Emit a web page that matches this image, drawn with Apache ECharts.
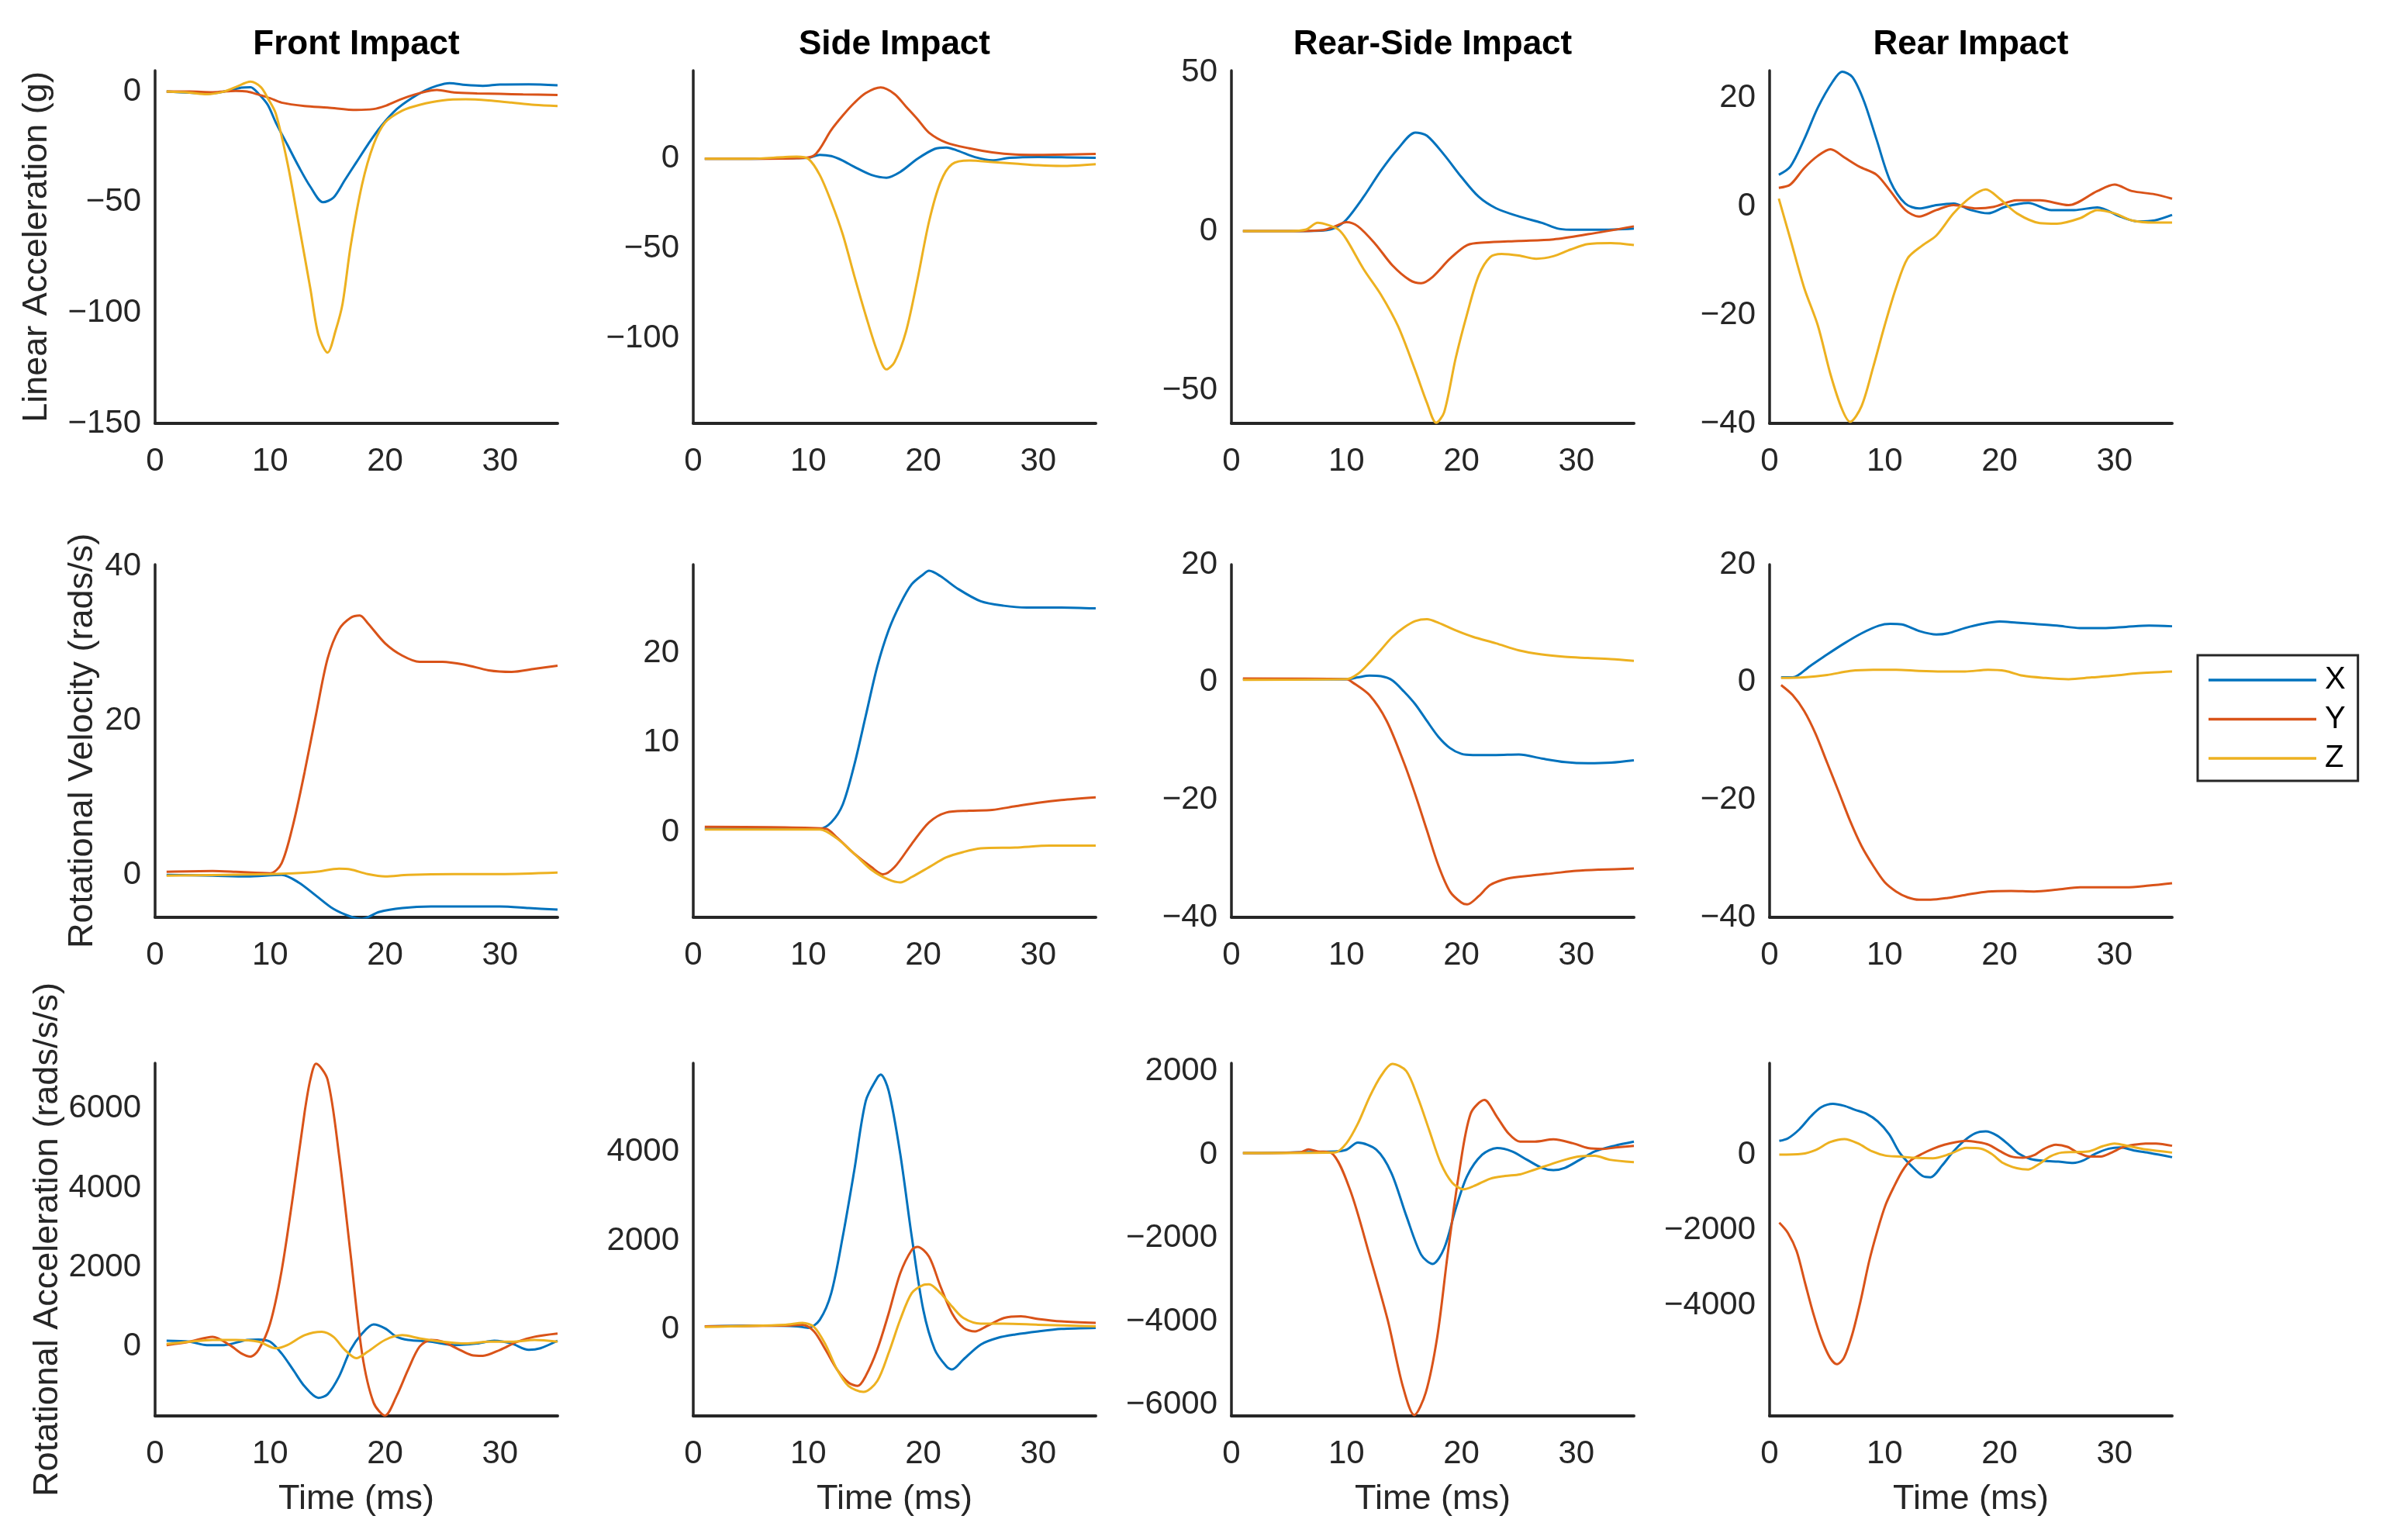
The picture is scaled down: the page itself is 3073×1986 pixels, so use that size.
<!DOCTYPE html>
<html>
<head>
<meta charset="utf-8">
<script src="https://cdn.jsdelivr.net/npm/echarts@6/dist/echarts.min.js"></script>
<style>
html,body{margin:0;padding:0;background:#fff;}
#chart{width:3073px;height:1986px;}
</style>
</head>
<body>
<div id="chart"></div>
<script>
// ---------- DATA ([time ms, value]) ----------
const columnTitles = ['Front Impact', 'Side Impact', 'Rear-Side Impact', 'Rear Impact'];
const rowNames = ['Linear Acceleration (g)', 'Rotational Velocity (rads/s)', 'Rotational Acceleration (rads/s/s)'];
const seriesNames = ['X', 'Y', 'Z'];
const xTicks = [0, 10, 20, 30];

// Row 1: linear acceleration
const frontLinX = [[1,0],[3,-0.5],[4.5,-1],[6,0],[7.5,1.8],[8.3,2],[9,-1],[9.8,-6],[10.5,-14],[11.5,-24],[12.5,-34],[13.5,-43],[14.6,-50],[15.5,-48],[16.5,-40],[17.5,-32],[18.5,-24],[19.6,-16],[21,-8],[22.3,-3],[23.5,0.5],[24.5,2.6],[25.6,3.8],[27,3],[28.5,2.6],[30,3.2],[32.5,3.3],[35,2.8]];
const frontLinY = [[1,0],[3,0],[5,-0.3],[7,0.3],[8,0],[9,-1.4],[10,-3],[11,-5],[13,-6.5],[15,-7.2],[17.5,-8.3],[19,-7.9],[20,-6.5],[21,-4.3],[22,-2.3],[23,-0.7],[24.5,0.7],[26,-0.4],[28,-0.8],[30,-1],[32,-1.3],[35,-1.5]];
const frontLinZ = [[1,0],[3,-0.5],[4.5,-1.2],[6,0],[7,2],[8.3,4.5],[9.2,2],[9.8,-3],[10.5,-10],[11.5,-32],[12.5,-60],[13.5,-89],[14.2,-110],[15,-118],[15.7,-108],[16.3,-96],[17,-70],[18,-42],[19,-24],[20,-14],[21.5,-8.6],[23,-6],[25,-4],[27,-3.5],[29,-4],[31,-5],[33,-6],[35,-6.5]];

const sideLinX = [[1,0],[5,0],[8,0.3],[10,0.5],[11,2.2],[12,1.5],[13,-1],[14,-4.5],[15.5,-9],[16.8,-10.5],[18,-7.3],[19.5,0],[21,5.5],[22,6.3],[23,4.5],[24.5,0.9],[26,-0.9],[27.5,0.5],[30,1],[32.5,0.8],[35,0.5]];
const sideLinY = [[1,0],[5,0],[9,0.3],[10.5,1.8],[12,16],[13,24],[14,31],[15,36.5],[16.3,39.6],[17.5,36],[18.5,29],[19.5,22],[20.5,14.5],[22,9],[24,5.8],[26,3.6],[28,2.4],[30,2.2],[35,2.7]];
const sideLinZ = [[1,0],[5,0],[8,1],[9,1.2],[10,0],[11,-9],[12,-24],[13,-42],[14,-65],[15,-87],[16,-107],[16.8,-117],[17.5,-113],[18.5,-96],[19.5,-67],[20.5,-35],[21.5,-13],[22.5,-3],[24,-1],[26,-1.8],[28,-2.7],[30,-3.6],[32,-4],[35,-3]];

const rearSideLinX = [[1,0],[5,0],[8,0.2],[9,1],[10,3.6],[11.5,10.8],[13,19],[14.5,26],[16,31],[17,30],[18.5,24],[20,17],[21.5,10.8],[23,7.2],[25,4.6],[27,2.6],[28.5,0.7],[30,0.4],[32,0.4],[35,0.8]];
const rearSideLinY = [[1,0],[5,0],[8,0.3],[9,1.5],[10,2.8],[11,1.5],[12.5,-4],[14,-10.8],[15.5,-15.4],[16.5,-16.4],[17.5,-14.4],[19,-8.7],[20.5,-4.4],[22,-3.6],[25,-3.1],[28,-2.6],[31,-1],[35,1.5]];
const rearSideLinZ = [[1,0],[5,0],[6.5,0.5],[7.5,2.6],[8.5,1.8],[9.3,0.5],[10,-2.6],[11.5,-12],[13,-20],[14.5,-30],[16,-44],[17,-54],[17.8,-60.3],[18.5,-57],[19.5,-40],[20.5,-26],[21.5,-14],[22.5,-8.2],[23.5,-7.2],[25,-7.7],[26.5,-8.7],[28,-7.9],[29.5,-5.8],[31,-4.1],[33,-3.8],[35,-4.4]];

const rearLinX = [[0.8,5.8],[1.8,7.3],[3,12.3],[4.2,18.2],[5.5,23],[6.3,24.8],[7.2,23.8],[8.2,19.4],[9.3,12.3],[10.5,4.6],[11.8,0.5],[13,-0.4],[14.5,0.2],[16,0.5],[17.5,-0.7],[19,-1.3],[20.5,-0.1],[22.5,0.6],[24.5,-0.7],[26.5,-0.7],[28.5,-0.2],[30.5,-1.9],[32,-2.8],[33.5,-2.6],[35,-1.6]];
const rearLinY = [[0.8,3.4],[1.8,4],[3,7],[4.2,9.3],[5.3,10.5],[6.5,9],[7.8,7.3],[9.3,5.8],[10.5,2.8],[11.8,-0.7],[13,-1.9],[14.5,-0.7],[16,0.2],[18,-0.4],[19.5,-0.1],[21.5,1.1],[23.5,1.1],[26,0.2],[28.5,2.8],[30,4],[31.5,2.8],[33.5,2.2],[35,1.4]];
const rearLinZ = [[0.8,1.4],[1.8,-6],[3,-15],[4.2,-22],[5.3,-31],[6.3,-37.4],[7,-39.7],[8,-36.8],[9,-29.7],[10,-22],[11,-15],[12,-9.6],[13.3,-7.2],[14.5,-5.4],[16,-1.3],[17.5,1.7],[18.8,3.1],[20,1.4],[21.5,-1.3],[23.5,-3.1],[25,-3.2],[27,-2.2],[28.5,-0.7],[30,-1.3],[31.5,-2.6],[33.5,-3],[35,-3]];

// Row 2: rotational velocity
const frontVelX = [[1,0],[5,-0.1],[8,-0.2],[11,0],[12.5,-1],[14,-2.7],[15.5,-4.4],[17,-5.4],[18,-5.7],[19.5,-4.8],[21.5,-4.3],[24,-4.1],[27,-4.1],[30,-4.1],[32.5,-4.3],[35,-4.5]];
const frontVelY = [[1,0.4],[5,0.5],[7,0.4],[10,0.2],[11,1.5],[12,6.5],[13,13.3],[14,20.8],[15,28],[16,31.8],[17,33.3],[17.8,33.6],[18.5,32.6],[20,30],[21.5,28.4],[23,27.6],[25,27.6],[27,27.2],[29,26.5],[31,26.3],[33,26.7],[35,27.1]];
const frontVelZ = [[1,-0.1],[10,0.1],[12,0.2],[14,0.4],[16,0.8],[17,0.7],[18.5,0.1],[20,-0.2],[22,0],[26,0.1],[30,0.1],[35,0.3]];

const sideVelX = [[1,0.4],[11,0.4],[12,1.1],[13,3.1],[14,7.5],[15,13],[16,18.5],[17,22.6],[18,25.5],[19,27.7],[20,28.8],[20.5,29.2],[21.5,28.6],[23,27.2],[25,25.8],[27,25.3],[29,25.1],[32,25.1],[35,25]];
const sideVelY = [[1,0.6],[11.5,0.4],[12.5,-0.6],[14,-2.4],[15.5,-3.9],[16.5,-4.7],[17.5,-3.9],[19,-1.3],[20.5,1.1],[22,2.2],[24,2.4],[26,2.5],[28,2.9],[30,3.3],[32,3.6],[35,3.9]];
const sideVelZ = [[1,0.3],[11,0.3],[12.5,-0.7],[14,-2.4],[15.5,-4.2],[17,-5.3],[18,-5.6],[19,-5],[20.5,-3.9],[22,-2.8],[23.5,-2.2],[25,-1.8],[28,-1.7],[31,-1.5],[35,-1.5]];

const rearSideVelX = [[1,0.5],[10,0.5],[11,0.8],[12,1.1],[13,1],[14,0.3],[15,-1.6],[16,-3.8],[17,-6.6],[18,-9.3],[19,-11.2],[20,-12.2],[21,-12.4],[23,-12.4],[25,-12.3],[27,-13],[29,-13.6],[31,-13.8],[33,-13.7],[35,-13.3]];
const rearSideVelY = [[1,0.6],[10,0.5],[10.5,0],[12,-2.2],[13.5,-6.6],[15,-13.7],[16,-19.2],[17,-25.2],[18,-31.2],[19,-35.6],[20,-37.5],[20.5,-37.8],[21.5,-36.4],[22.5,-34.5],[24,-33.4],[26,-32.9],[28,-32.5],[30,-32.1],[32,-31.9],[35,-31.7]];
const rearSideVelZ = [[1,0.4],[10,0.5],[11,1.4],[12,3.3],[13,5.5],[14,7.7],[15,9.3],[16,10.4],[17,10.7],[18,10.1],[19.5,8.8],[21,7.7],[23,6.6],[25,5.4],[27,4.7],[29,4.3],[31,4.1],[33,3.9],[35,3.6]];

const rearVelX = [[1,0.8],[2,0.8],[3.5,2.7],[5,4.7],[6.5,6.6],[8,8.3],[9.5,9.6],[10.5,9.9],[11.5,9.8],[13,8.7],[14.5,8.1],[15.5,8.3],[17,9.2],[18.5,9.9],[20,10.3],[21.5,10.1],[23,9.9],[25,9.6],[27,9.2],[29,9.2],[31,9.4],[33,9.6],[35,9.5]];
const rearVelY = [[1,-0.5],[2,-2.2],[3,-4.9],[4,-8.8],[5,-13.7],[6,-18.6],[7,-23.6],[8,-27.9],[9,-31.2],[10,-34],[11,-35.6],[12,-36.6],[13,-37],[14,-37],[15.5,-36.7],[17,-36.2],[19,-35.6],[21,-35.5],[23,-35.6],[25,-35.3],[27,-34.9],[29,-34.9],[31,-34.9],[33,-34.6],[35,-34.2]];
const rearVelZ = [[1,0.7],[3,0.8],[5,1.2],[7,1.9],[9,2.1],[11,2.1],[13,1.9],[15,1.8],[17,1.8],[19,2.1],[20.5,1.9],[22,1.1],[24,0.7],[26,0.5],[28,0.8],[30,1.1],[32,1.5],[35,1.8]];

// Row 3: rotational acceleration
const frontAccX = [[1,150],[3,125],[4.5,40],[6,40],[8,170],[9,180],[10,125],[11,-170],[12,-580],[13,-1000],[14.2,-1290],[15,-1200],[16,-750],[17,-80],[18,330],[19,560],[20,460],[21,250],[22,170],[24,125],[26,40],[28,80],[29.5,150],[31,80],[32.5,-80],[33.5,-40],[35,150]];
const frontAccY = [[1,40],[3,125],[5,250],[6.5,40],[7.5,-170],[8.3,-250],[9,-80],[10,580],[11,1910],[12,3820],[13,5900],[13.5,6730],[14,7130],[15,6730],[16,4820],[17,2330],[18,-170],[19,-1410],[20,-1735],[21,-1245],[22,-580],[23,0],[24,170],[25,125],[26.5,-80],[27.5,-210],[28.5,-230],[30,-80],[31.5,125],[33,250],[35,330]];
const frontAccZ = [[1,65],[3,125],[5,170],[7,170],[9,125],[10.5,-40],[11.5,40],[13,290],[14.5,375],[15.5,250],[16.5,-80],[17.5,-290],[18.5,-125],[20,170],[21.5,290],[23,210],[25,125],[27,80],[29,125],[31,125],[33,170],[35,125]];

const sideAccX = [[1,75],[6,90],[9,75],[10,40],[11,220],[12,820],[13,2090],[14,3575],[15,5140],[16,5660],[16.3,5735],[17,5360],[18,3950],[19,2090],[20,450],[21,-450],[22,-820],[22.5,-895],[23.5,-670],[25,-335],[26.5,-185],[28,-110],[30,-40],[32,15],[35,40]];
const sideAccY = [[1,75],[8,90],[9.5,110],[10.5,-40],[11.5,-450],[12.5,-895],[13.5,-1190],[14.3,-1265],[15,-1040],[16,-450],[17,370],[18,1265],[19,1790],[19.5,1860],[20.5,1640],[21.5,970],[22.5,370],[23.5,40],[24.5,-40],[25.5,75],[27,260],[28.5,300],[30,240],[32,185],[35,150]];
const sideAccZ = [[1,60],[8,110],[9.5,150],[10.5,60],[11.5,-335],[12.5,-895],[13.5,-1265],[14.8,-1400],[16,-1155],[17,-520],[18,225],[19,820],[20,1005],[20.5,1020],[21.5,820],[22.5,520],[23.5,260],[25,135],[27,135],[30,110],[35,75]];

const rearSideAccX = [[1,40],[9,80],[10,120],[11,290],[12.6,120],[13.9,-430],[15.2,-1460],[16.5,-2400],[17.5,-2620],[18.5,-2245],[19.5,-1300],[20.5,-510],[21.8,0],[23.1,160],[24.4,80],[25.7,-120],[27,-315],[28,-370],[29,-315],[30.3,-120],[31.6,80],[33.3,215],[35,315]];
const rearSideAccY = [[1,40],[6,60],[6.7,130],[7.5,80],[8.7,40],[10.3,-830],[12,-2400],[13.6,-3980],[14.9,-5555],[15.9,-6250],[16.9,-5710],[17.9,-4370],[18.8,-2400],[19.8,-430],[20.8,985],[22,1315],[23.1,905],[24.1,510],[25.1,315],[26.4,315],[28,370],[29.7,275],[31,160],[32.3,140],[33.6,180],[35,215]];
const rearSideAccZ = [[1,40],[9,55],[10,275],[11,750],[12,1380],[13,1890],[14,2180],[15.2,2010],[16.2,1380],[17.2,590],[18.2,-200],[19.2,-670],[20.2,-830],[21.1,-750],[22.5,-575],[23.8,-510],[25.1,-470],[26.4,-355],[27.7,-235],[29,-120],[30.3,-40],[31.6,-25],[32.9,-120],[35,-180]];

const rearAccX = [[0.84,380],[1.6,449],[2.6,691],[3.6,1036],[4.5,1278],[5.5,1368],[6.5,1313],[7.4,1209],[8.4,1105],[9.4,898],[10.4,553],[11.3,69],[12.3,-276],[13.3,-553],[14,-587],[15,-276],[15.9,69],[16.9,380],[17.9,587],[18.8,635],[19.8,518],[20.8,277],[21.7,35],[22.7,-104],[23.9,-152],[25.1,-173],[26.4,-207],[27.3,-138],[28.3,35],[29.5,173],[30.5,207],[31.7,124],[33.1,55],[35,-55]];
const rearAccY = [[0.84,-1797],[1.6,-2073],[2.35,-2556],[3.07,-3385],[3.8,-4214],[4.53,-4905],[5.25,-5389],[5.86,-5562],[6.47,-5389],[7.19,-4767],[7.92,-3869],[8.65,-2833],[9.38,-2004],[10.1,-1313],[10.83,-829],[11.55,-415],[12.28,-138],[13.26,35],[14.22,173],[15.2,277],[16.17,346],[17.1,380],[18.1,346],[19.06,277],[20.05,104],[21,-35],[22,-69],[23,0],[23.9,173],[24.9,277],[25.9,221],[26.8,69],[27.8,-35],[28.8,-35],[29.75,69],[30.7,207],[31.7,277],[32.7,311],[33.6,311],[35,250]];
const rearAccZ = [[0.84,14],[2.8,35],[4,138],[5.25,346],[6.5,429],[7.7,311],[8.9,104],[10.1,-14],[11.3,-35],[12.5,-69],[14.2,-83],[15.7,35],[17.1,193],[18.35,173],[19.3,35],[20.3,-207],[21.5,-346],[22.5,-380],[23.4,-242],[24.4,-35],[25.4,69],[26.6,83],[27.8,104],[29,242],[30,311],[31.2,242],[32.7,152],[35,69]];

// axis limits and tick labels per panel (row-major)
const yMins = [-150, -147, -60.5, -40,   -5.5, -9.5, -40, -40,   -1745, -1940, -6270, -6940];
const yMaxs = [9.5, 49, 50.5, 25,   40.2, 29.9, 20, 20,   7145, 5990, 2200, 2450];
const yTickLabels = [
  [-150,-100,-50,0], [-100,-50,0], [-50,0,50], [-40,-20,0,20],
  [0,20,40], [0,10,20], [-40,-20,0,20], [-40,-20,0,20],
  [0,2000,4000,6000], [0,2000,4000], [-6000,-4000,-2000,0,2000], [-4000,-2000,0]
];
const panelData = [
  [frontLinX, frontLinY, frontLinZ], [sideLinX, sideLinY, sideLinZ], [rearSideLinX, rearSideLinY, rearSideLinZ], [rearLinX, rearLinY, rearLinZ],
  [frontVelX, frontVelY, frontVelZ], [sideVelX, sideVelY, sideVelZ], [rearSideVelX, rearSideVelY, rearSideVelZ], [rearVelX, rearVelY, rearVelZ],
  [frontAccX, frontAccY, frontAccZ], [sideAccX, sideAccY, sideAccZ], [rearSideAccX, rearSideAccY, rearSideAccZ], [rearAccX, rearAccY, rearAccZ]
];

// ---------- STYLE / LAYOUT ----------
const colors = ['#0072BD', '#D95319', '#EDB120'];
const FONT = '"Liberation Sans", Arial, Helvetica, sans-serif';
const INK = '#262626';
const colLeft = [200, 894, 1588, 2282];
const colW = 519;
const rowTop = [91, 728, 1371];
const rowH = 455;
const nameGaps = [130, 71, 116];

const grids = [], xAxes = [], yAxes = [], series = [], graphics = [];
panelData.forEach((triple, i) => {
  const r = Math.floor(i / 4), c = i % 4;
  grids.push({ left: colLeft[c], top: rowTop[r], width: colW, height: rowH, containLabel: false });
  xAxes.push({
    gridIndex: i, type: 'value', min: 0, max: 35, interval: 10,
    axisLine: { show: true, onZero: false, lineStyle: { color: INK, width: 4 } },
    axisTick: { show: false }, splitLine: { show: false },
    axisLabel: { customValues: xTicks, fontSize: 42, lineHeight: 42, color: INK, margin: 28, fontFamily: FONT },
    name: r === 2 ? 'Time (ms)' : '', nameLocation: 'middle', nameGap: 85,
    nameTextStyle: { fontSize: 45, lineHeight: 45, color: INK, fontFamily: FONT }
  });
  yAxes.push({
    gridIndex: i, type: 'value', min: yMins[i], max: yMaxs[i],
    axisLine: { show: true, onZero: false, lineStyle: { color: INK, width: 3.5 } },
    axisTick: { show: false }, splitLine: { show: false },
    axisLabel: {
      customValues: yTickLabels[i], fontSize: 42, color: INK, margin: 18, fontFamily: FONT,
      formatter: v => String(v).replace('-', '\u2212')
    },
    name: c === 0 ? rowNames[r] : '', nameLocation: 'middle', nameGap: nameGaps[r],
    nameTextStyle: { fontSize: 45, lineHeight: 45, color: INK, fontFamily: FONT }
  });
  triple.forEach((d, k) => {
    series.push({
      name: seriesNames[k], type: 'line', xAxisIndex: i, yAxisIndex: i, data: d,
      showSymbol: false, smooth: 0.3, clip: true,
      lineStyle: { color: colors[k], width: 3 }, itemStyle: { color: colors[k] }
    });
  });
});
columnTitles.forEach((t, c) => {
  graphics.push({
    type: 'text', x: colLeft[c] + colW / 2, y: 58,
    style: { text: t, fontSize: 44, fontWeight: 'bold', fontFamily: FONT, fill: '#000', align: 'center', verticalAlign: 'middle' }
  });
});

const chart = echarts.init(document.getElementById('chart'), null, { renderer: 'canvas' });
chart.setOption({
  backgroundColor: '#fff',
  animation: false,
  grid: grids, xAxis: xAxes, yAxis: yAxes, series: series,
  graphic: graphics,
  legend: {
    orient: 'vertical', left: 2834, top: 845, data: seriesNames, icon: 'rect',
    itemWidth: 139, itemHeight: 3.5, itemGap: 10.5, padding: [12, 16, 9, 14],
    borderColor: INK, borderWidth: 3, backgroundColor: '#fff', selectedMode: false,
    textStyle: { fontSize: 40, lineHeight: 40, color: '#000', fontFamily: FONT, padding: [0, 0, 0, 6] }
  }
});
</script>
</body>
</html>
